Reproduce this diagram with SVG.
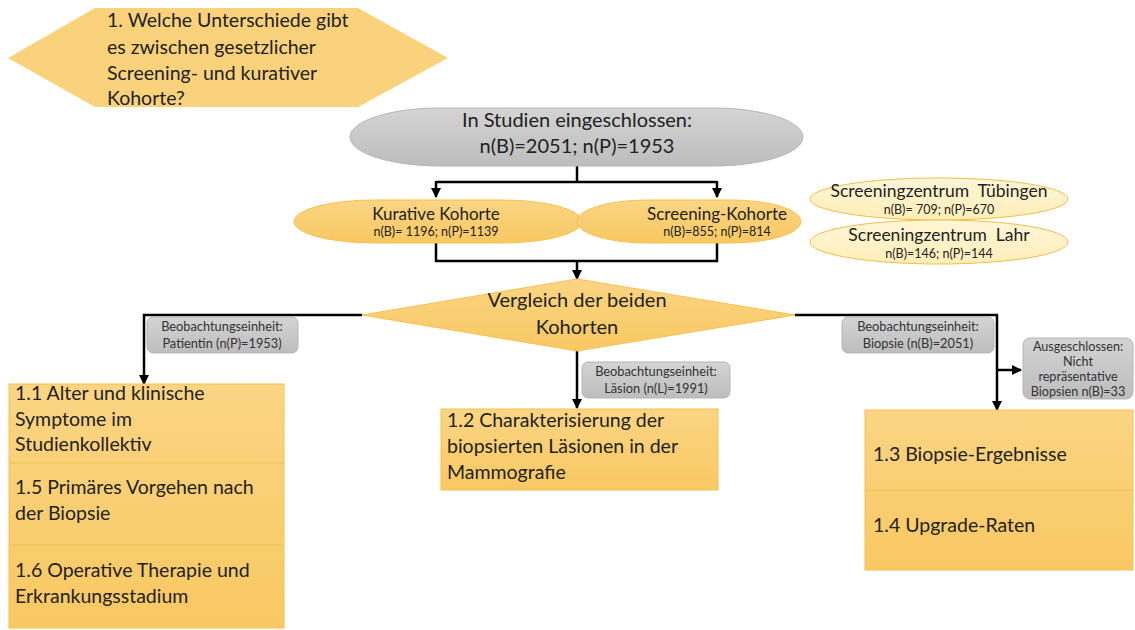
<svg xmlns="http://www.w3.org/2000/svg" width="1135" height="630" viewBox="0 0 1135 630">
  <defs>
    <linearGradient id="gOrange" x1="0" y1="0" x2="0" y2="1">
      <stop offset="0" stop-color="#fbd584"/>
      <stop offset="1" stop-color="#f8c862"/>
    </linearGradient>
    <linearGradient id="gGray" x1="0" y1="0" x2="0" y2="1">
      <stop offset="0" stop-color="#d4d4d4"/>
      <stop offset="1" stop-color="#bdbdbd"/>
    </linearGradient>
    <linearGradient id="gLight" x1="0" y1="0" x2="0" y2="1">
      <stop offset="0" stop-color="#fff6d8"/>
      <stop offset="1" stop-color="#ffeeb8"/>
    </linearGradient>
    <marker id="arrow" viewBox="0 0 10 10" refX="9" refY="5" markerWidth="4" markerHeight="4" orient="auto">
      <path d="M0,0 L10,5 L0,10 z" fill="#000"/>
    </marker>
    <style>
      text { font-family: Lato, "Liberation Sans", sans-serif; fill: #222; }
      .orange { fill: url(#gOrange); stroke: #f5c24f; stroke-width: 1; }
      .gray { fill: url(#gGray); stroke: #b5b5b5; stroke-width: 1; }
      .light { fill: url(#gLight); stroke: #f0bf45; stroke-width: 1; }
      .conn { fill: none; stroke: #000; stroke-width: 2.5; }
      .big { font-size: 19.5px; }
      .mid { font-size: 17px; }
      .small { font-size: 12.5px; }
      .lbl { font-size: 12.8px; fill: #333; }
      .exc { font-size: 12.6px; fill: #333; }
      .c { text-anchor: middle; }
      .div { stroke: #f0c050; stroke-width: 1; }
    </style>
  </defs>

  <!-- research question -->
  <g id="question">
    <polygon points="8,58 95,8 358,8 448,58 358,107 95,107" fill="#fbd27c"/>
    <text class="big" x="107" y="27">1. Welche Unterschiede gibt</text>
    <text class="big" x="107" y="54">es zwischen gesetzlicher</text>
    <text class="big" x="107" y="80">Screening- und kurativer</text>
    <text class="big" x="107" y="105">Kohorte?</text>
  </g>

  <!-- connectors -->
  <g id="connectors">
    <path class="conn" d="M577,166 V182"/>
    <path class="conn" d="M436,182 H717"/>
    <path class="conn" d="M436,181 V197" marker-end="url(#arrow)"/>
    <path class="conn" d="M717,181 V197" marker-end="url(#arrow)"/>
    <path class="conn" d="M436,242 V261 H717 V242"/>
    <path class="conn" d="M577,261 V279" marker-end="url(#arrow)"/>
    <path class="conn" d="M362,315 H144 V384" marker-end="url(#arrow)"/>
    <path class="conn" d="M577,350 V408" marker-end="url(#arrow)"/>
    <path class="conn" d="M795,315 H997 V410" marker-end="url(#arrow)"/>
    <path class="conn" d="M997,370 H1021" marker-end="url(#arrow)"/>
  </g>

  <g id="included">
    <rect class="gray" x="350" y="108" width="453" height="58" rx="90" ry="29"/>
    <text class="c" x="577" y="127" font-size="20">In Studien eingeschlossen:</text>
    <text class="c" x="577" y="153" font-size="20">n(B)=2051; n(P)=1953</text>
  </g>

  <g id="kurativ">
    <rect class="orange" x="294" y="200" width="288" height="43" rx="80" ry="21.5"/>
    <text class="mid c" x="436" y="220">Kurative Kohorte</text>
    <text class="small c" x="436" y="236">n(B)= 1196; n(P)=1139</text>
  </g>

  <g id="screening">
    <rect class="orange" x="577" y="200" width="224" height="43" rx="70" ry="21.5"/>
    <text class="mid c" x="717" y="220">Screening-Kohorte</text>
    <text class="small c" x="717" y="236">n(B)=855; n(P)=814</text>
  </g>

  <g id="tuebingen">
    <ellipse class="light" cx="939" cy="199" rx="129" ry="21"/>
    <text class="c" x="939" y="197" font-size="17.5" xml:space="preserve">Screeningzentrum  Tübingen</text>
    <text class="small c" x="939" y="214">n(B)= 709; n(P)=670</text>
  </g>

  <g id="lahr">
    <ellipse class="light" cx="939" cy="242" rx="129" ry="22"/>
    <text class="c" x="939" y="241" font-size="17.5" xml:space="preserve">Screeningzentrum  Lahr</text>
    <text class="small c" x="939" y="258">n(B)=146; n(P)=144</text>
  </g>

  <g id="comparison">
    <polygon class="orange" points="362,315 577,279 795,315 577,351"/>
    <text class="c" x="577" y="307" font-size="20">Vergleich der beiden</text>
    <text class="c" x="577" y="334" font-size="20">Kohorten</text>
  </g>

  <g id="label-patientin">
    <rect class="gray" x="147" y="317" width="151" height="36" rx="6"/>
    <text class="lbl c" x="222" y="331">Beobachtungseinheit:</text>
    <text class="lbl c" x="222" y="348">Patientin (n(P)=1953)</text>
  </g>

  <g id="label-laesion">
    <rect class="gray" x="582" y="362" width="148" height="36" rx="6"/>
    <text class="lbl c" x="656" y="376">Beobachtungseinheit:</text>
    <text class="lbl c" x="656" y="393">Läsion (n(L)=1991)</text>
  </g>

  <g id="label-biopsie">
    <rect class="gray" x="842" y="317" width="152" height="36" rx="6"/>
    <text class="lbl c" x="918" y="331">Beobachtungseinheit:</text>
    <text class="lbl c" x="918" y="348">Biopsie (n(B)=2051)</text>
  </g>

  <g id="excluded">
    <rect class="gray" x="1023" y="338" width="110" height="61" rx="7"/>
    <text class="exc c" x="1078" y="351">Ausgeschlossen:</text>
    <text class="exc c" x="1078" y="366">Nicht</text>
    <text class="exc c" x="1078" y="381">repräsentative</text>
    <text class="exc c" x="1078" y="396">Biopsien n(B)=33</text>
  </g>

  <g id="results-patient">
    <rect class="orange" x="9" y="384" width="275" height="244"/>
    <line class="div" x1="9" y1="463" x2="284" y2="463"/>
    <line class="div" x1="9" y1="545" x2="284" y2="545"/>
    <text class="big" x="15" y="400">1.1 Alter und klinische</text>
    <text class="big" x="15" y="426">Symptome im</text>
    <text class="big" x="15" y="451">Studienkollektiv</text>
    <text class="big" x="15" y="494">1.5 Primäres Vorgehen nach</text>
    <text class="big" x="15" y="520">der Biopsie</text>
    <text class="big" x="15" y="577">1.6 Operative Therapie und</text>
    <text class="big" x="15" y="603">Erkrankungsstadium</text>
  </g>

  <g id="results-lesion">
    <rect class="orange" x="441" y="409" width="277" height="81"/>
    <text class="big" x="447" y="427">1.2 Charakterisierung der</text>
    <text class="big" x="447" y="453">biopsierten Läsionen in der</text>
    <text class="big" x="447" y="479">Mammografie</text>
  </g>

  <g id="results-biopsy">
    <rect class="orange" x="865" y="410" width="268" height="160"/>
    <line class="div" x1="865" y1="490" x2="1133" y2="490"/>
    <text class="big" x="873" y="461">1.3 Biopsie-Ergebnisse</text>
    <text class="big" x="873" y="532">1.4 Upgrade-Raten</text>
  </g>
</svg>
